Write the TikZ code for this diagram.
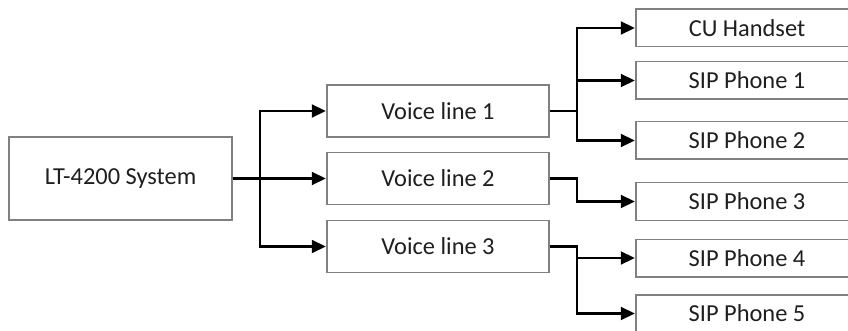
\documentclass[tikz,border=0pt]{standalone}
\usepackage{fontspec}
\setmainfont{Carlito}
\usetikzlibrary{arrows.meta,calc}
\tikzset{
  box/.style={draw=black!50, line width=1.5pt, fill=white, rectangle, inner sep=0pt,
    minimum width=222pt, text=black!88, font=\fontsize{24.4}{29}\selectfont},
  vbox/.style={box, minimum height=52pt},
  pbox/.style={box, minimum height=37.5pt},
  conn/.style={draw=black, line width=2.2pt},
  arr/.style={conn, -{Triangle[length=14pt,width=13pt]}, shorten >=0.5pt}
}
\begin{document}
\begin{tikzpicture}[x=1pt,y=-1pt]
\useasboundingbox[fill=white] (0,0) rectangle (848,331);
\node[box, minimum width=223pt, minimum height=83pt] (lt) at (120.5,178.5) {LT-4200 System};
\node[vbox] (v1) at (438,111) {Voice line 1};
\node[vbox] (v2) at (438,178.5) {Voice line 2};
\node[vbox] (v3) at (438,246.5) {Voice line 3};
\node[pbox] (cu) at (747,28) {CU Handset};
\node[pbox] (p1) at (747,80.5) {SIP Phone 1};
\node[pbox] (p2) at (747,140.5) {SIP Phone 2};
\node[pbox] (p3) at (747,201.5) {SIP Phone 3};
\node[pbox] (p4) at (747,258) {SIP Phone 4};
\node[pbox] (p5) at (747,313.5) {SIP Phone 5};
\coordinate (j0) at (260,178.5);
\coordinate (j1) at (577,111);
\coordinate (j2) at (577,178.5);
\coordinate (j3) at (577,246.5);
% LT to voice lines
\draw[arr] (lt.east) -- (v2.west);
\draw[arr] (lt.east) -- (j0) |- (v1.west);
\draw[arr] (lt.east) -- (j0) |- (v3.west);
% voice line 1
\draw[arr] (v1.east) -- (j1) |- (cu.west);
\draw[arr] (v1.east) -- (j1) |- (p1.west);
\draw[arr] (v1.east) -- (j1) |- (p2.west);
% voice line 2
\draw[arr] (v2.east) -- (j2) |- (p3.west);
% voice line 3
\draw[arr] (v3.east) -- (j3) |- (p4.west);
\draw[arr] (v3.east) -- (j3) |- (p5.west);
\end{tikzpicture}
\end{document}
